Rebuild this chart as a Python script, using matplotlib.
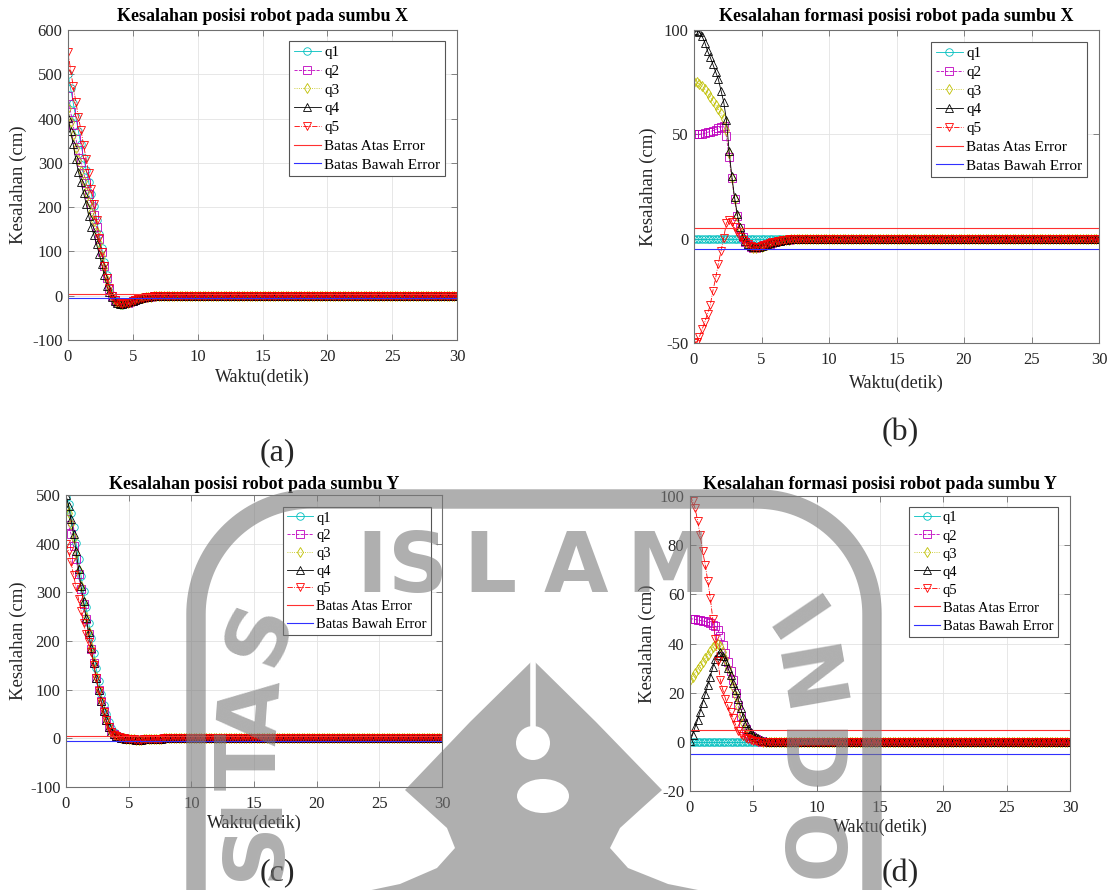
import numpy as np
import matplotlib
matplotlib.use("Agg")
import matplotlib.pyplot as plt

plt.rcParams['font.family'] = ['Liberation Serif', 'DejaVu Serif']
plt.rcParams['axes.unicode_minus'] = False

W, H = 1113, 890

# ---------------- data ----------------
time_step = 0.2
n_points = 151                      # 0 .. 30 s
t = np.arange(n_points) * time_step
settled = [0.0] * 110               # values after t = 8 s (all at 0)

series_labels = ['q1', 'q2', 'q3', 'q4', 'q5']
limit_labels = ['Batas Atas Error', 'Batas Bawah Error']
ERR_UPPER = 5
ERR_LOWER = -5

# (a) position error, X axis
a_q1 = [500, 468, 436, 404, 372, 342, 312, 284, 256, 230,
        202, 172, 140, 108, 76, 46, 20, 2, -10, -16,
        -19, -20, -19, -17, -15, -13, -11, -9, -7, -5.5,
        -4, -3, -2, -1.5, -1, -0.5, -0.2, 0, 0, 0, 0]
a_q2 = [450, 415, 385, 355, 328, 302, 278, 254, 230, 206,
        182, 156, 128, 98, 68, 40, 16, 0, -10, -15,
        -17, -18, -17, -16, -14, -12, -10, -8, -6, -4.5,
        -3.5, -2.5, -1.8, -1.2, -0.8, -0.4, -0.2, 0, 0, 0, 0]
a_q3 = [425, 392, 362, 334, 306, 282, 258, 235, 212, 190,
        168, 144, 118, 90, 62, 35, 13, -2, -11, -16,
        -18, -18, -17, -16, -14, -12, -10, -8, -6, -4.5,
        -3.5, -2.5, -1.8, -1.2, -0.8, -0.4, -0.2, 0, 0, 0, 0]
a_q4 = [402, 372, 342, 308, 280, 256, 232, 208, 180, 156,
        137, 116, 95, 72, 46, 22, 8, -4, -12, -16,
        -18, -18, -17, -15, -13, -11, -9, -7, -5.5, -4,
        -3, -2, -1.5, -1, -0.5, 0, 0, 0, 0, 0, 0]
a_q5 = [550, 510, 473, 438, 404, 374, 340, 309, 276, 242,
        207, 171, 130, 98, 68, 40, 18, 0, -10, -15,
        -17, -18, -17, -16, -14, -12, -10, -8, -6, -4.5,
        -3.5, -2.5, -1.8, -1.2, -0.8, -0.4, -0.2, 0, 0, 0, 0]

# (b) formation error, X axis
b_q1 = [0] * 41
b_q2 = [50, 50, 50, 50.3, 50.5, 51, 51.3, 51.8, 52.3, 53,
        53.5, 54, 49, 39, 29, 19, 11, 5, 1, -1.5,
        -3, -4, -4.3, -4.3, -4, -3.6, -3.2, -2.8, -2.4, -2,
        -1.6, -1.3, -1, -0.8, -0.6, -0.4, -0.2, -0.1, 0, 0, 0]
b_q3 = [75, 75, 74, 73, 71.5, 70, 68, 66, 64, 62,
        60, 57.5, 52, 41, 29, 19, 11, 5, 1, -1.5,
        -3, -4, -4.5, -4.5, -4.2, -3.8, -3.3, -2.8, -2.4, -2,
        -1.6, -1.3, -1, -0.8, -0.6, -0.4, -0.2, -0.1, 0, 0, 0]
b_q4 = [100, 99.5, 99, 97, 94, 90, 87, 83.5, 80, 76.5,
        71, 65.5, 57, 42, 30, 20, 12, 5.5, 1.5, -1,
        -2.5, -3.5, -4, -4, -3.8, -3.4, -3, -2.6, -2.2, -1.8,
        -1.5, -1.2, -0.9, -0.7, -0.5, -0.3, -0.2, -0.1, 0, 0, 0]
b_q5 = [-50, -49.5, -47, -43.5, -40, -36, -32, -25, -19, -12,
        -6, 0.5, 7.5, 9, 8, 5.5, 3, 1, -0.5, -1.5,
        -2.5, -3.3, -3.8, -4, -3.8, -3.4, -3, -2.6, -2.2, -1.8,
        -1.5, -1.2, -0.9, -0.7, -0.5, -0.3, -0.2, -0.1, 0, 0, 0]

# (c) position error, Y axis
c_q1 = [495, 482, 462, 434, 402, 368, 334, 302, 270, 238,
        207, 176, 145, 118, 92, 69, 50, 34, 22, 13,
        8, 4.5, 2.2, 0.8, -0.3, -1.2, -1.8, -2.2, -2.5, -2.5,
        -2.4, -2.2, -2, -1.8, -1.5, -1.2, -1, -0.7, -0.5, -0.3, -0.2]
c_q2 = [450, 438, 420, 396, 368, 338, 306, 276, 245, 214,
        184, 154, 125, 100, 77, 56, 38, 24, 14, 8,
        5, 3, 1.5, 0.5, -0.5, -1.2, -1.8, -2.2, -2.5, -2.5,
        -2.4, -2.2, -2, -1.8, -1.5, -1.2, -1, -0.7, -0.5, -0.3, -0.2]
c_q3 = [475, 462, 440, 412, 380, 346, 312, 281, 249, 218,
        187, 156, 126, 100, 77, 56, 38, 24, 14, 8,
        5, 3, 1.5, 0.5, -0.5, -1.2, -1.8, -2.2, -2.5, -2.5,
        -2.4, -2.2, -2, -1.8, -1.5, -1.2, -1, -0.7, -0.5, -0.3, -0.2]
c_q4 = [500, 478, 450, 420, 385, 348, 312, 282, 248, 218,
        186, 155, 125, 100, 77, 56, 38, 24, 14, 8,
        5, 3, 1.5, 0.5, -0.5, -1.2, -1.8, -2.2, -2.5, -2.5,
        -2.4, -2.2, -2, -1.8, -1.5, -1.2, -1, -0.7, -0.5, -0.3, -0.2]
c_q5 = [400, 385, 362, 336, 310, 286, 262, 238, 214, 198,
        178, 151, 123, 98, 75, 54, 37, 23, 13, 7.5,
        4.5, 2.5, 1.2, 0.3, -0.6, -1.3, -1.9, -2.3, -2.5, -2.5,
        -2.4, -2.2, -2, -1.8, -1.5, -1.2, -1, -0.7, -0.5, -0.3, -0.2]

# (d) formation error, Y axis
d_q1 = [0] * 41
d_q2 = [50, 50, 49.8, 49.6, 49.4, 49.2, 49, 48.7, 48.3, 47.7,
        47, 45.5, 43, 39.5, 36, 32.5, 29, 25, 20, 15,
        10.5, 7.5, 5.2, 3.6, 2.5, 1.6, 1, 0.6, 0.3, 0.1,
        0, 0, 0, 0, 0, 0, 0, 0, 0, 0, 0]
d_q3 = [25, 26.5, 28, 29.5, 31, 32.5, 34, 35.5, 37, 38.5,
        39.5, 40, 39, 36.5, 33.5, 30, 26.5, 22.5, 18.5, 14.5,
        10.5, 7.5, 5.2, 3.6, 2.5, 1.6, 1, 0.6, 0.3, 0.1,
        0, 0, 0, 0, 0, 0, 0, 0, 0, 0, 0]
d_q4 = [0.5, 2.8, 6, 9, 12.3, 16, 19.4, 23, 26.5, 30.3,
        33.5, 35.5, 36.5, 35, 33, 30, 27.2, 23.8, 21, 17.5,
        13.7, 10.3, 7.7, 5.4, 3.9, 2.8, 2, 1.4, 0.9, 0.5,
        0.3, 0.1, 0, 0, 0, 0, 0, 0, 0, 0, 0]
d_q5 = [100, 98, 95, 90, 84, 77.5, 72, 65.5, 58.5, 50,
        42, 33, 25, 21, 17.5, 14.5, 12, 9.5, 7, 4.5,
        3.2, 2.3, 1.6, 1.1, 0.7, 0.4, 0.2, 0.1, 0, 0,
        0, 0, 0, 0, 0, 0, 0, 0, 0, 0, 0]

titles = ['Kesalahan posisi robot pada sumbu X',
          'Kesalahan formasi posisi robot pada sumbu X',
          'Kesalahan posisi robot pada sumbu Y',
          'Kesalahan formasi posisi robot pada sumbu Y']
captions = ['(a)', '(b)', '(c)', '(d)']
xlabel = 'Waktu(detik)'
ylabel = 'Kesalahan (cm)'
x_ticks = [0, 5, 10, 15, 20, 25, 30]
y_ticks_list = [[-100, 0, 100, 200, 300, 400, 500, 600],
                [-50, 0, 50, 100],
                [-100, 0, 100, 200, 300, 400, 500],
                [-20, 0, 20, 40, 60, 80, 100]]
panel_series = [[a_q1, a_q2, a_q3, a_q4, a_q5],
                [b_q1, b_q2, b_q3, b_q4, b_q5],
                [c_q1, c_q2, c_q3, c_q4, c_q5],
                [d_q1, d_q2, d_q3, d_q4, d_q5]]

# ---------------- layout (pixels) ----------------
# left, top, right, bottom
boxes = [(68, 30, 457, 340), (694, 30, 1099, 343),
         (66, 495, 442, 787), (690, 496, 1070, 791)]
title_y = [1.0435, 1.043, 1.036, 1.039]
xlab_y = [-0.119, -0.128, -0.123, -0.122]
ylab_x = [-0.1285, -0.1136, -0.126, -0.112]
legend_anchor = [(0.969, 0.9645), (0.970, 0.9617), (0.971, 0.959), (0.968, 0.963)]
legend_fs = [11, 11, 10.5, 10.5]
legend_sp = [0.33, 0.33, 0.31, 0.33]
caption_pos = [(277, 453), (900, 433), (277, 873), (900, 874)]

styles = [dict(color='c', ls='-', marker='o'),
          dict(color='m', ls='--', marker='s'),
          dict(color='y', ls=':', marker='d'),
          dict(color='k', ls='-', marker='^'),
          dict(color='r', ls='-.', marker='v')]

fig = plt.figure(figsize=(W / 100, H / 100), dpi=100)
fig.patch.set_facecolor('white')

frame_col = '#707070'
for i in range(4):
    l, tp, r, b = boxes[i]
    ax = fig.add_axes([l / W, 1 - b / H, (r - l) / W, (b - tp) / H])
    for k, vals in enumerate(panel_series[i]):
        y = np.array(list(vals) + settled, dtype=float)
        st = styles[k]
        ax.plot(t, y, color=st['color'], ls=st['ls'], lw=0.6,
                marker=st['marker'], markersize=5.4, markerfacecolor='none',
                markeredgewidth=0.6, label=series_labels[k])
    ax.axhline(ERR_UPPER, color='#ff3030', lw=0.8, label=limit_labels[0])
    ax.axhline(ERR_LOWER, color='#3030ff', lw=0.8, label=limit_labels[1])
    yt = y_ticks_list[i]
    ax.set_xlim(0, 30)
    ax.set_ylim(yt[0], yt[-1])
    ax.set_xticks(x_ticks)
    ax.set_yticks(yt)
    ax.grid(True, color='#e3e3e3', lw=0.6)
    ax.set_axisbelow(True)
    for s in ax.spines.values():
        s.set_color(frame_col)
        s.set_linewidth(0.8)
    ax.tick_params(direction='in', length=4, width=0.6, colors=frame_col,
                   labelcolor='#262626', labelsize=12, top=True, right=True)
    ax.tick_params(axis='x', pad=6.5)
    ax.tick_params(axis='y', pad=4)
    ax.set_title(titles[i], fontsize=13, fontweight='bold', y=title_y[i],
                 va='center', pad=0)
    ax.set_xlabel(xlabel, fontsize=13, color='#262626')
    ax.xaxis.label.set_va('center')
    ax.xaxis.set_label_coords(0.5, xlab_y[i])
    ax.set_ylabel(ylabel, fontsize=13.5, color='#262626')
    ax.yaxis.label.set_va('center')
    ax.yaxis.set_label_coords(ylab_x[i], 0.5)
    leg = ax.legend(loc='upper right', bbox_to_anchor=legend_anchor[i],
                    borderaxespad=0, fontsize=legend_fs[i], fancybox=False,
                    framealpha=1, edgecolor='#555555', handlelength=1.8,
                    handletextpad=0.2, labelspacing=legend_sp[i], borderpad=0.3)
    leg.get_frame().set_linewidth(0.8)
    cx, cy = caption_pos[i]
    fig.text(cx / W, 1 - cy / H, captions[i], fontsize=23, ha='center',
             va='center', color='#262626')

# ---------------- watermark (university logo) ----------------
wm = fig.add_axes([0, 0, 1, 1], zorder=20)
wm.set_xlim(0, W)
wm.set_ylim(H, 0)
wm.axis('off')
wm.patch.set_alpha(0)
gcol = '#7a7a7a'
galpha = 0.6

Lx, Rx, Ty, Rad = 196, 872, 499, 115
th1 = np.linspace(np.pi, 1.5 * np.pi, 40)
th2 = np.linspace(1.5 * np.pi, 2 * np.pi, 40)
ax_x = np.concatenate([[Lx, Lx], Lx + Rad + Rad * np.cos(th1),
                       Rx - Rad + Rad * np.cos(th2), [Rx, Rx]])
ax_y = np.concatenate([[H + 5, Ty + Rad], Ty + Rad + Rad * np.sin(th1),
                       Ty + Rad + Rad * np.sin(th2), [Ty + Rad, H + 5]])
wm.plot(ax_x, ax_y, color=gcol, alpha=galpha, lw=14, solid_capstyle='butt')

wfont = dict(family='DejaVu Sans', fontsize=60, color=gcol, alpha=galpha,
             fontweight='bold')
for ch, x in zip('ISLAM', [372, 418, 490, 576, 668]):
    wm.text(x, 592, ch, ha='center', va='baseline', **wfont)
for ch, (x, y, rot) in zip('SITAS', [(256, 850, 90), (252, 808, 90),
                                    (252, 762, 90), (254, 712, 86),
                                    (260, 632, 70)]):
    wm.text(x, y, ch, ha='center', va='center', rotation=rot,
            rotation_mode='anchor', **wfont)
for ch, (x, y, rot) in zip('INDO', [(792, 626, -56), (802, 683, -80),
                                   (802, 763, -90), (804, 850, -90)]):
    wm.text(x, y, ch, ha='center', va='center', rotation=rot,
            rotation_mode='anchor', **wfont)

emblem = [(533, 660), (470, 722), (405, 790), (425, 808), (447, 828),
          (455, 848), (437, 868), (400, 884), (362, 892), (708, 892),
          (668, 884), (628, 868), (610, 848), (620, 828), (642, 808),
          (662, 790), (596, 722)]
wm.add_patch(plt.Polygon(emblem, closed=True, fc=gcol, ec='none',
                         alpha=galpha))
wm.add_patch(plt.Circle((533, 743), 17, fc='white', ec='none'))
wm.add_patch(matplotlib.patches.Ellipse((543, 796), 52, 34, fc='white',
                                        ec='none'))
wm.plot([533, 533], [655, 728], color='white', lw=4)

fig.savefig('out.png', dpi=100, facecolor='white')
